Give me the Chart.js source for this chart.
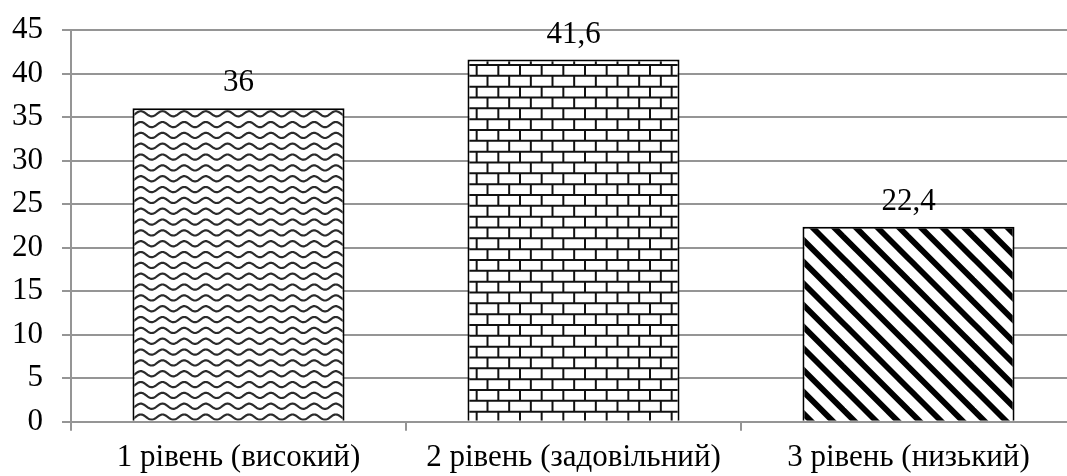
<!DOCTYPE html>
<html lang="uk">
<head>
<meta charset="utf-8">
<title>Рівні</title>
<script src="https://cdn.jsdelivr.net/npm/chart.js@4.4.1/dist/chart.umd.min.js"></script>
<style>
  html, body { margin: 0; padding: 0; background: #fff; overflow: hidden; }
  #wrap { width: 1076px; height: 476px; position: relative; }
</style>
</head>
<body>
<div id="wrap"><canvas id="chart"></canvas></div>
<script>
// Chart data
const categories = ['1 рівень (високий)', '2 рівень (задовільний)', '3 рівень (низький)'];
const values = [36, 41.6, 22.4];
const yMin = 0;
const yMax = 45;
const yStep = 5;

const FONT = '"Liberation Serif", "Times New Roman", serif';
const GRID = '#959595';

const canvas = document.getElementById('chart');
const ctx = canvas.getContext('2d');

// Fill patterns: a 65px tile holds three 21.67px pattern periods
const TILE = 65;
const P = TILE / 3;

function makePattern(draw) {
  const c = document.createElement('canvas');
  c.width = TILE; c.height = TILE;
  const g = c.getContext('2d');
  g.fillStyle = '#fff';
  g.fillRect(0, 0, TILE, TILE);
  draw(g);
  return ctx.createPattern(c, 'repeat');
}

// wavy lines
const wavePattern = makePattern(g => {
  const h = TILE / 6;
  g.strokeStyle = '#2b2b2b';
  g.lineWidth = 2.2;
  for (let i = -1; i <= 6; i++) {
    const yc = i * h + h / 2;
    g.beginPath();
    for (let x = -2; x <= TILE + 2; x += 0.5) {
      const y = yc + 2.6 * Math.cos(2 * Math.PI * x / P);
      if (x === -2) g.moveTo(x, y); else g.lineTo(x, y);
    }
    g.stroke();
  }
});

// horizontal bricks
const brickPattern = makePattern(g => {
  const h = TILE / 6;
  g.strokeStyle = '#111';
  g.lineWidth = 2;
  for (let i = 0; i <= 6; i++) {
    g.beginPath();
    g.moveTo(0, i * h); g.lineTo(TILE, i * h);
    g.stroke();
  }
  for (let i = 0; i < 6; i++) {
    const off = (i % 2) ? P / 2 : 0;
    for (let j = -1; j <= 4; j++) {
      const x = off + j * P;
      g.beginPath();
      g.moveTo(x, i * h); g.lineTo(x, (i + 1) * h);
      g.stroke();
    }
  }
});

// wide downward diagonal
const stripePattern = makePattern(g => {
  g.strokeStyle = '#000';
  g.lineWidth = 5.8;
  for (let c = -TILE - P; c <= TILE + P; c += P) {
    g.beginPath();
    g.moveTo(c - 20, -20);
    g.lineTo(c + TILE + 20, TILE + 20);
    g.stroke();
  }
});

const fmt = v => String(v).replace('.', ',');

// value labels above each bar
const valueLabels = {
  id: 'valueLabels',
  afterDatasetsDraw(chart) {
    const c = chart.ctx;
    const meta = chart.getDatasetMeta(0);
    c.save();
    c.font = '31px ' + FONT;
    c.fillStyle = '#000';
    c.textAlign = 'center';
    c.textBaseline = 'alphabetic';
    meta.data.forEach((bar, i) => {
      c.fillText(fmt(values[i]), bar.x, bar.y - 17);
    });
    c.restore();
  }
};

// fixed axis sizes; label overhang handled by the layout padding
function fitX(s) {
  s.height = 54.3;
  s.paddingLeft = 0; s.paddingRight = 0;
}
function fitY(s) {
  s.width = 71;
  s.paddingTop = 0; s.paddingBottom = 0;
}

new Chart(canvas, {
  type: 'bar',
  data: {
    labels: categories,
    datasets: [{
      data: values,
      backgroundColor: [wavePattern, brickPattern, stripePattern],
      borderColor: '#000',
      borderWidth: 2,
      barPercentage: 0.633,
      categoryPercentage: 1
    }]
  },
  options: {
    responsive: true,
    maintainAspectRatio: false,
    animation: false,
    devicePixelRatio: 1,
    layout: { padding: { top: 30, left: 0, right: 0, bottom: 0 } },
    plugins: {
      legend: { display: false },
      tooltip: { enabled: false }
    },
    scales: {
      x: {
        afterFit: fitX,
        grid: {
          display: true,
          drawOnChartArea: false,
          drawTicks: true,
          tickLength: 9,
          color: GRID,
          lineWidth: 2,
          offset: true
        },
        border: { display: true, color: GRID, width: 2 },
        ticks: {
          color: '#000',
          font: { family: FONT, size: 31 },
          padding: 9,
          maxRotation: 0,
          autoSkip: false
        }
      },
      y: {
        min: yMin,
        max: yMax,
        afterFit: fitY,
        grid: {
          color: GRID,
          lineWidth: 2,
          drawTicks: true,
          tickLength: 9
        },
        border: { display: true, color: GRID, width: 2 },
        ticks: {
          stepSize: yStep,
          color: '#000',
          font: { family: FONT, size: 31 },
          padding: 19
        }
      }
    }
  },
  plugins: [valueLabels]
});
</script>
</body>
</html>
